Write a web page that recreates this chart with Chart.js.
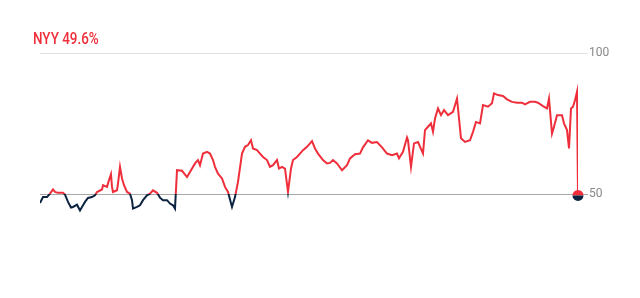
<!DOCTYPE html>
<html>
<head>
<meta charset="utf-8">
<script src="https://cdn.jsdelivr.net/npm/chart.js@4.4.1/dist/chart.umd.min.js"></script>
<style>
  html, body { margin: 0; padding: 0; background: #fff; }
  #wrap { position: relative; width: 640px; height: 298px; }
  #title { position: absolute; left: 33px; top: 28px; line-height: 16px; font: 500 17px Roboto, sans-serif; color: #ee2f3b; transform: scaleX(0.79); transform-origin: left top; white-space: nowrap; }
</style>
</head>
<body>
<div id="wrap">
  <div id="title">NYY 49.6%</div>
  <canvas id="chart" width="640" height="298"></canvas>
</div>
<script>
// game progress (event index) and NYY win probability (%)
const events = [0,3,7,10,13,15,18,23,25,28,31,33,37,40,42,45,48,52,55,57,62,63,67,69,71,72,73,77,78,80,82,84,87,90,92,93,97,100,103,107,
  110,113,117,120,123,127,130,133,135,137,142,147,150,155,158,160,163,167,170,173,175,178,182,185,188,192,195,198,202,205,
  208,211,213,217,220,223,227,230,233,237,239,242,245,248,251,253,257,260,263,267,272,275,278,283,287,290,293,297,302,307,
  310,315,320,323,328,332,337,342,347,352,357,359,363,367,368,371,374,378,383,385,388,391,393,395,398,401,404,408,413,417,
  421,425,430,433,436,440,443,448,452,454,458,463,467,472,477,482,485,490,495,498,503,507,509,512,514,517,522,524,527,529,
  531,533,535,537,538];
const winProb = [46.9,49.0,49.0,50.2,51.7,50.8,50.5,50.5,49.9,47.3,45.3,45.5,46.3,44.3,45.5,47.3,48.7,49.0,49.6,50.8,51.7,53.2,52.6,55.0,57.1,52.6,50.8,51.4,53.8,59.7,55.6,53.2,50.8,50.2,47.9,44.9,45.5,46.1,47.9,49.6,
  50.2,51.4,50.5,48.8,47.9,47.9,46.7,46.1,44.9,58.5,58.3,56.1,57.9,60.9,62.1,60.3,64.4,65.0,64.4,62.1,59.7,57.3,55.6,52.6,50.8,45.5,49.0,54.4,64.4,66.8,
  67.4,69.1,66.2,65.6,64.4,63.2,62.1,59.7,60.3,62.1,59.1,59.7,59.1,50.8,59.1,62.1,63.2,64.4,65.6,66.8,68.8,66.2,64.4,62.1,60.9,61.1,62.1,60.9,58.5,60.3,
  62.7,64.2,64.4,66.6,69.1,68.2,68.5,66.6,64.4,63.8,64.4,62.7,65.0,70.1,69.1,59.7,68.0,68.5,64.4,72.7,73.9,75.1,72.1,76.8,80.4,78.0,79.8,78.0,79.2,83.9,
  69.8,68.5,69.1,72.1,75.6,75.1,81.6,81.0,82.2,85.7,85.1,84.8,83.6,82.7,82.4,82.4,81.8,82.7,82.7,82.4,81.2,80.4,83.9,71.5,73.9,78.0,78.0,75.1,72.7,66.2,
  80.4,81.0,83.3,86.3,49.6];
const yTicks = [50, 100];

const RED = '#ee2f3b';
const NAVY = '#0c2340';

// red above the 50 line, navy below it
const splitColor = (ctx) => {
  const chart = ctx.chart;
  const area = chart.chartArea;
  if (!area) return RED;
  const y50 = chart.scales.y.getPixelForValue(50);
  const g = chart.ctx.createLinearGradient(0, area.top, 0, area.bottom);
  const f = Math.min(1, Math.max(0, (y50 - area.top) / (area.bottom - area.top)));
  g.addColorStop(0, RED);
  g.addColorStop(f, RED);
  g.addColorStop(f, NAVY);
  g.addColorStop(1, NAVY);
  return g;
};

const endDot = {
  id: 'endDot',
  afterDatasetsDraw(chart) {
    const meta = chart.getDatasetMeta(0);
    const pt = meta.data[meta.data.length - 1];
    const c = chart.ctx;
    c.save();
    c.beginPath();
    c.arc(pt.x, pt.y, 5.5, Math.PI, 0);
    c.fillStyle = RED;
    c.fill();
    c.beginPath();
    c.arc(pt.x, pt.y, 5.5, 0, Math.PI);
    c.fillStyle = NAVY;
    c.fill();
    c.restore();
  }
};

new Chart(document.getElementById('chart'), {
  type: 'line',
  data: {
    datasets: [{
      data: events.map((e, i) => ({ x: e, y: winProb[i] })),
      borderColor: splitColor,
      borderWidth: 2,
      pointRadius: 0,
      tension: 0,
      fill: false
    }]
  },
  options: {
    responsive: false,
    animation: false,
    layout: { padding: { left: 40, top: 53, bottom: 19, right: 0 } },
    plugins: { legend: { display: false }, tooltip: { enabled: false } },
    scales: {
      x: { type: 'linear', min: 0, max: 538, display: false },
      y: {
        position: 'right',
        min: 20,
        max: 100,
        afterBuildTicks: (axis) => { axis.ticks = yTicks.map((v) => ({ value: v })); },
        afterFit: (axis) => { axis.width = 62; },
        border: { display: false },
        grid: {
          color: (ctx) => (ctx.tick && ctx.tick.value === 50 ? '#a8a8a8' : '#e2e2e2'),
          lineWidth: 1,
          tickLength: 10,
          drawTicks: true
        },
        ticks: {
          padding: 1,
          color: '#888',
          font: { family: 'Roboto', size: 12 }
        }
      }
    }
  },
  plugins: [endDot]
});
</script>
</body>
</html>
